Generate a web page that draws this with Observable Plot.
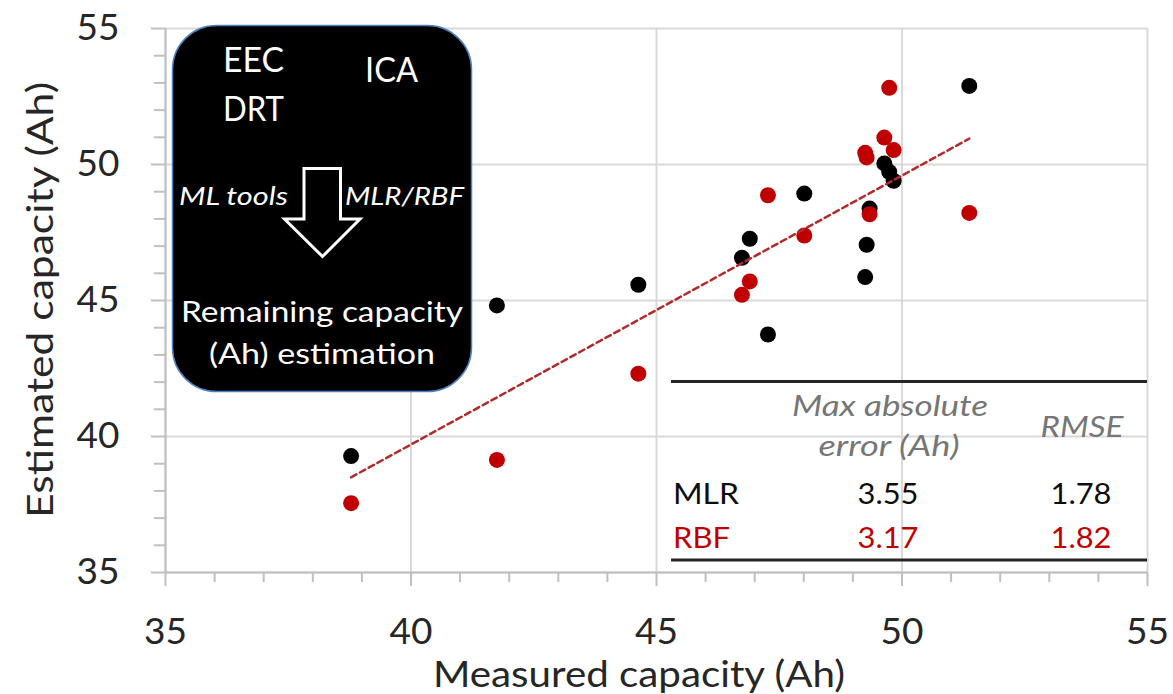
<!DOCTYPE html>
<html>
<head>
<meta charset="utf-8">
<script src="https://cdn.jsdelivr.net/npm/d3@7"></script>
<script src="https://cdn.jsdelivr.net/npm/@observablehq/plot@0.6"></script>
<style>
  html, body { margin: 0; padding: 0; background: white; }
  svg { display: block; }
</style>
</head>
<body>
<div id="chart"></div>
<script>
// ---- data ----
const measured = [38.78, 41.75, 44.63, 46.74, 46.90, 47.27, 48.01, 49.25, 49.28, 49.34, 49.64, 49.74, 49.83, 51.37];
const mlrEstimated = [39.28, 44.82, 45.58, 46.57, 47.27, 43.75, 48.93, 45.86, 47.05, 48.38, 50.04, 49.73, 49.40, 52.89];
const rbfEstimated = [37.55, 39.14, 42.31, 45.21, 45.70, 48.87, 47.39, 50.43, 50.26, 48.17, 50.99, 52.82, 50.53, 48.22];
const trendX = [38.78, 51.37];
const trendY = [38.50, 50.95];
const majorTicks = [35, 40, 45, 50, 55];
const minorTicks = [36, 37, 38, 39, 41, 42, 43, 44, 46, 47, 48, 49, 51, 52, 53, 54];
const xTitle = "Measured capacity (Ah)";
const yTitle = "Estimated capacity (Ah)";
const tableModels = ["MLR", "RBF"];
const tableMaxAbs = ["3.55", "3.17"];
const tableRmse = ["1.78", "1.82"];

const mlrData = measured.map((m, i) => ({m, e: mlrEstimated[i]}));
const rbfData = measured.map((m, i) => ({m, e: rbfEstimated[i]}));
const trendData = trendX.map((x, i) => ({x, y: trendY[i]}));

const RED = "#c00000";
const FONT = "Lato, 'Open Sans', sans-serif";

const svg = Plot.plot({
  width: 1173,
  height: 694,
  marginLeft: 165,
  marginRight: 26,
  marginTop: 28,
  marginBottom: 122,
  style: {fontFamily: FONT, background: "white"},
  x: {domain: [35, 55], label: null},
  y: {domain: [35, 55], label: null},
  marks: [
    Plot.gridX(majorTicks, {stroke: "#d9d9d9", strokeOpacity: 1, strokeWidth: 2}),
    Plot.gridY(majorTicks, {stroke: "#d9d9d9", strokeOpacity: 1, strokeWidth: 2}),
    Plot.ruleX([35], {stroke: "#bfbfbf", strokeWidth: 2}),
    Plot.ruleY([35], {stroke: "#bfbfbf", strokeWidth: 2}),
    Plot.axisX(minorTicks, {tickSize: 10, tickFormat: () => "", stroke: "#bfbfbf", strokeWidth: 2, label: null}),
    Plot.axisY(minorTicks, {tickSize: 11, tickFormat: () => "", stroke: "#bfbfbf", strokeWidth: 2, label: null}),
    Plot.axisX(majorTicks, {tickSize: 14, tickPadding: 31, stroke: "#bfbfbf", strokeWidth: 2, fill: "#262626", fontSize: 37, label: null}),
    Plot.axisY(majorTicks, {tickSize: 14, tickPadding: 32, stroke: "#bfbfbf", strokeWidth: 2, fill: "#262626", fontSize: 37, label: null}),
    Plot.dot(mlrData, {x: "m", y: "e", r: 8, fill: "black"}),
    Plot.dot(rbfData, {x: "m", y: "e", r: 8, fill: RED}),
    Plot.line(trendData, {x: "x", y: "y", stroke: "#b22a2a", strokeWidth: 2.5, strokeDasharray: "6,4"})
  ]
});

document.getElementById("chart").appendChild(svg);

// ---- annotations (layout in pixels) ----
const root = d3.select(svg);
const ann = root.append("g").attr("font-family", FONT);

const fit = (el, len) => el.attr("textLength", len).attr("lengthAdjust", "spacingAndGlyphs");

// axis titles
fit(ann.append("text").text(xTitle)
  .attr("x", 639).attr("y", 687).attr("text-anchor", "middle")
  .attr("font-size", 37).attr("fill", "#262626"), 412);
fit(ann.append("text").text(yTitle)
  .attr("transform", "translate(53,300) rotate(-90)").attr("text-anchor", "middle")
  .attr("font-size", 37).attr("fill", "#262626"), 436);

// black rounded box
ann.append("rect")
  .attr("x", 172.5).attr("y", 25.5).attr("width", 299).attr("height", 366).attr("rx", 44)
  .attr("fill", "black").attr("stroke", "#4f81bd").attr("stroke-width", 1.5);

const white = (t, x, y, size, opts = {}) => {
  const el = ann.append("text").text(t).attr("x", x).attr("y", y)
    .attr("font-size", size).attr("fill", "white")
    .attr("text-anchor", opts.anchor || "start");
  if (opts.italic) el.attr("font-style", "italic");
  if (opts.len) fit(el, opts.len);
  return el;
};
white("EEC", 223, 72, 35, {len: 61});
white("DRT", 223, 121, 35, {len: 61});
white("ICA", 365, 82, 35, {len: 53});
white("ML tools", 179, 205, 25, {italic: true, len: 109});
white("MLR/RBF", 345, 205, 25, {italic: true, len: 119});
white("Remaining capacity", 322, 322, 29, {anchor: "middle", len: 282});
white("(Ah) estimation", 322, 364, 29, {anchor: "middle", len: 226});

// arrow
const arrow = d3.path();
arrow.moveTo(304, 168.5);
arrow.lineTo(340.5, 168.5);
arrow.lineTo(340.5, 219);
arrow.lineTo(360, 219);
arrow.lineTo(322.5, 256.5);
arrow.lineTo(284.5, 219);
arrow.lineTo(304, 219);
arrow.closePath();
ann.append("path").attr("d", arrow.toString())
  .attr("fill", "black").attr("stroke", "white").attr("stroke-width", 3).attr("stroke-linejoin", "miter");

// table
ann.append("line").attr("x1", 671).attr("x2", 1147).attr("y1", 381.5).attr("y2", 381.5)
  .attr("stroke", "#262626").attr("stroke-width", 3);
ann.append("line").attr("x1", 671).attr("x2", 1147).attr("y1", 560).attr("y2", 560)
  .attr("stroke", "#262626").attr("stroke-width", 3);

const tt = (t, x, y, color, anchor, italic, len) => {
  const el = ann.append("text").text(t).attr("x", x).attr("y", y)
    .attr("font-size", italic ? 29 : 28).attr("fill", color).attr("text-anchor", anchor);
  if (italic) el.attr("font-style", "italic");
  if (len) fit(el, len);
  return el;
};
tt("Max absolute", 890, 416, "#767676", "middle", true, 196);
tt("error (Ah)", 889, 456, "#767676", "middle", true, 141);
tt("RMSE", 1082, 437, "#767676", "middle", true, 83);
const rowColors = ["#0d0d0d", RED];
const rowY = [504, 548];
tableModels.forEach((m, i) => {
  tt(m, 673, rowY[i], rowColors[i], "start", false, i === 0 ? 66 : 57);
  tt(tableMaxAbs[i], 888, rowY[i], rowColors[i], "middle", false, 61);
  tt(tableRmse[i], 1081, rowY[i], rowColors[i], "middle", false, 61);
});
</script>
</body>
</html>
